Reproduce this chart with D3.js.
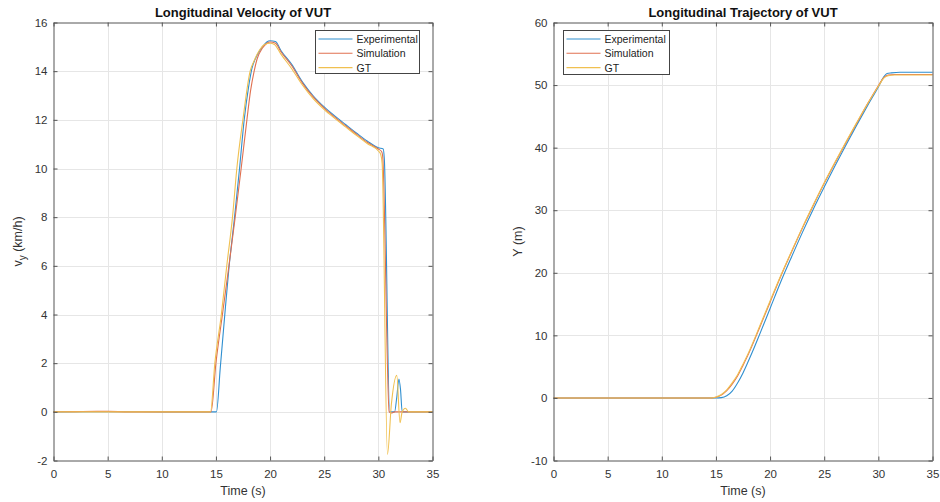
<!DOCTYPE html>
<html>
<head>
<meta charset="utf-8">
<script src="https://cdn.jsdelivr.net/npm/d3@7"></script>
<style>
  body { margin: 0; background: #fff; }
  svg { display: block; font-family: "Liberation Sans", Arial, sans-serif; }
</style>
</head>
<body>
<script>
// Series names and colors (MATLAB defaults)
const seriesNames = ["Experimental", "Simulation", "GT"];
const seriesColors = ["#2f8fd0", "#e07050", "#f0c050"];

// Velocity data (km/h)
const expVelT = [0, 5, 10, 14, 15.05, 15.4, 15.8, 16.2, 16.72, 17.18, 17.61, 18.0, 18.32, 18.8, 19.3, 19.7, 20.0, 20.5, 21.0, 22.0, 23.0, 24.0, 25.0, 26.0, 27.0, 28.0, 29.0, 30.0, 30.45, 30.55, 31.05, 31.5, 31.7, 31.9, 32.05, 32.2, 35];
const expVelV = [0, 0.01, 0, 0, 0, 1.8, 3.9, 5.9, 8.0, 10.0, 12.0, 13.3, 14.1, 14.65, 15.0, 15.2, 15.25, 15.22, 14.85, 14.28, 13.55, 12.98, 12.53, 12.15, 11.8, 11.45, 11.12, 10.85, 10.8, 10.4, 0, 0, 0.6, 1.35, 0.9, 0, 0];
const simVelT = [0, 2, 4, 5, 7, 10, 14, 14.55, 15.0, 15.6, 16.2, 16.78, 17.33, 17.86, 18.2, 18.53, 18.8, 19.3, 19.7, 20.0, 20.5, 21.0, 22.0, 23.0, 24.0, 25.0, 26.0, 27.0, 28.0, 29.0, 30.0, 30.3, 30.4, 31.0, 31.2, 31.5, 32.0, 35];
const simVelV = [0, 0.01, 0.02, 0.02, 0, 0, 0, 0, 2.0, 4.0, 6.0, 8.0, 10.0, 12.0, 13.2, 14.0, 14.5, 14.95, 15.15, 15.2, 15.15, 14.8, 14.22, 13.5, 12.93, 12.48, 12.1, 11.75, 11.4, 11.07, 10.8, 10.7, 10.5, 0, -0.05, 0, 0, 0];
const gtVelT = [0, 14, 14.5, 14.9, 15.5, 16.0, 16.53, 16.93, 17.49, 18.16, 18.5, 19.0, 19.5, 20.0, 20.4, 21.0, 22.0, 23.0, 24.0, 25.0, 26.0, 27.0, 28.0, 29.0, 30.0, 30.2, 30.35, 30.84, 31.2, 31.7, 32.0, 32.2, 32.5, 32.8, 35];
const gtVelV = [0, 0, 0, 2.0, 4.0, 6.0, 8.0, 10.0, 12.0, 14.0, 14.4, 14.85, 15.1, 15.15, 15.1, 14.7, 14.1, 13.42, 12.86, 12.42, 12.05, 11.7, 11.35, 11.02, 10.72, 10.6, 10.2, -1.75, 0.3, 1.5, -0.45, 0.0, 0.15, 0, 0];

// Position data (m)
const expPosT = [0, 15, 15.5, 16, 16.5, 17, 17.5, 18, 18.5, 19, 20, 21, 22, 23, 24, 25, 26, 27, 28, 29, 30, 30.5, 30.8, 31.2, 32, 35];
const expPosY = [0, 0, 0.05, 0.35, 1.1, 2.4, 4.0, 5.9, 7.9, 10.0, 14.3, 18.6, 22.6, 26.5, 30.2, 33.7, 37.1, 40.4, 43.6, 46.7, 49.7, 51.3, 51.85, 51.95, 52.05, 52.05];
const simPosT = [0, 14.6, 15, 15.5, 16, 16.5, 17, 17.5, 18, 18.5, 19, 20, 21, 22, 23, 24, 25, 26, 27, 28, 29, 30, 30.5, 30.9, 31.5, 35];
const simPosY = [0, 0, 0.1, 0.45, 1.15, 2.2, 3.5, 5.2, 7.0, 9.0, 11.1, 15.3, 19.5, 23.4, 27.2, 30.8, 34.3, 37.6, 40.8, 43.9, 47.0, 49.9, 51.2, 51.6, 51.7, 51.7];
const gtPosT = [0, 14.5, 15, 15.5, 16, 16.5, 17, 17.5, 18, 18.5, 19, 20, 21, 22, 23, 24, 25, 26, 27, 28, 29, 30, 30.5, 30.9, 31.5, 35];
const gtPosY = [0, 0, 0.15, 0.55, 1.3, 2.4, 3.7, 5.4, 7.2, 9.2, 11.3, 15.5, 19.6, 23.5, 27.3, 30.9, 34.4, 37.7, 40.9, 44.0, 47.0, 49.8, 51.1, 51.5, 51.6, 51.6];

// Tick values
const timeTicks = [0, 5, 10, 15, 20, 25, 30, 35];
const velTicks = [-2, 0, 2, 4, 6, 8, 10, 12, 14, 16];
const posTicks = [-10, 0, 10, 20, 30, 40, 50, 60];

const svg = d3.select("body")
  .append("svg")
    .attr("width", 940)
    .attr("height", 502);

const zip = (ts, vs) => ts.map((t, i) => ({ t: t, v: vs[i] }));

drawPanel({
  left: 53.5, right: 432.5, top: 22.5, bottom: 460.5,
  title: "Longitudinal Velocity of VUT",
  yDomain: [-2, 16], yTicks: velTicks, yLabel: "velocity",
  series: [zip(expVelT, expVelV), zip(simVelT, simVelV), zip(gtVelT, gtVelV)],
  legend: { x: 315.5, y: 30.5, w: 104, h: 43 }
});

drawPanel({
  left: 553.5, right: 932.5, top: 22.5, bottom: 460.5,
  title: "Longitudinal Trajectory of VUT",
  yDomain: [-10, 60], yTicks: posTicks, yLabel: "position",
  series: [zip(expPosT, expPosY), zip(simPosT, simPosY), zip(gtPosT, gtPosY)],
  legend: { x: 563.5, y: 30.5, w: 106, h: 44 }
});

function drawPanel(cfg) {
  const g = svg.append("g");

  // Scales
  const xScale = d3.scaleLinear().domain([0, 35]).range([cfg.left, cfg.right]);
  const yScale = d3.scaleLinear().domain(cfg.yDomain).range([cfg.bottom, cfg.top]);

  // Grid
  g.append("g")
    .selectAll("line")
    .data(timeTicks.slice(1, -1))
    .join("line")
      .attr("x1", d => Math.round(xScale(d)) + 0.5)
      .attr("x2", d => Math.round(xScale(d)) + 0.5)
      .attr("y1", cfg.top)
      .attr("y2", cfg.bottom)
      .attr("stroke", "#e6e6e6");
  g.append("g")
    .selectAll("line")
    .data(cfg.yTicks.slice(1, -1))
    .join("line")
      .attr("x1", cfg.left)
      .attr("x2", cfg.right)
      .attr("y1", d => Math.round(yScale(d)) + 0.5)
      .attr("y2", d => Math.round(yScale(d)) + 0.5)
      .attr("stroke", "#e6e6e6");

  // Lines
  const line = d3.line()
    .x(d => xScale(d.t))
    .y(d => yScale(d.v))
    .curve(d3.curveMonotoneX);
  cfg.series.forEach((s, i) => {
    g.append("path")
      .datum(s)
      .attr("d", line)
      .attr("fill", "none")
      .attr("stroke", seriesColors[i])
      .attr("stroke-width", 1.1)
      .attr("stroke-linejoin", "round");
  });

  // Axes with inward ticks (box on all four sides)
  const axisStyle = sel => {
    sel.select(".domain").attr("stroke", "#555");
    sel.selectAll(".tick line").attr("stroke", "#555");
    sel.selectAll(".tick text")
      .attr("fill", "#333")
      .style("font-size", "11.5px")
      .style("font-family", "'Liberation Sans', Arial, sans-serif");
  };
  const fmt = d => String(d);
  g.append("g")
    .attr("transform", `translate(0,${cfg.bottom})`)
    .call(d3.axisBottom(xScale).tickValues(timeTicks).tickSize(-4).tickSizeOuter(0).tickPadding(9).tickFormat(fmt))
    .call(axisStyle);
  g.append("g")
    .attr("transform", `translate(0,${cfg.top})`)
    .call(d3.axisTop(xScale).tickValues(timeTicks).tickSize(-4).tickSizeOuter(0).tickFormat(""))
    .call(axisStyle);
  g.append("g")
    .attr("transform", `translate(${cfg.left},0)`)
    .call(d3.axisLeft(yScale).tickValues(cfg.yTicks).tickSize(-4).tickSizeOuter(0).tickPadding(6).tickFormat(fmt))
    .call(axisStyle);
  g.append("g")
    .attr("transform", `translate(${cfg.right},0)`)
    .call(d3.axisRight(yScale).tickValues(cfg.yTicks).tickSize(-4).tickSizeOuter(0).tickFormat(""))
    .call(axisStyle);

  // Title
  const cx = (cfg.left + cfg.right) / 2;
  g.append("text")
    .text(cfg.title)
    .attr("x", cx)
    .attr("y", 17)
    .attr("text-anchor", "middle")
    .attr("fill", "#111")
    .style("font-size", "13px")
    .style("font-weight", "bold");

  // X label
  g.append("text")
    .text("Time (s)")
    .attr("x", cx)
    .attr("y", 495)
    .attr("text-anchor", "middle")
    .attr("fill", "#333")
    .style("font-size", "12.5px");

  // Y label
  const yl = g.append("text")
    .attr("transform", `translate(${cfg.left - 32},${(cfg.top + cfg.bottom) / 2}) rotate(-90)`)
    .attr("text-anchor", "middle")
    .attr("fill", "#333")
    .style("font-size", "12.5px");
  if (cfg.yLabel === "velocity") {
    yl.append("tspan").text("v");
    yl.append("tspan").text("y").attr("dy", 4).style("font-size", "10px");
    yl.append("tspan").text(" (km/h)").attr("dy", -4);
  } else {
    yl.text("Y (m)");
  }

  // Legend
  const lg = g.append("g").attr("transform", `translate(${cfg.legend.x},${cfg.legend.y})`);
  lg.append("rect")
    .attr("width", cfg.legend.w)
    .attr("height", cfg.legend.h)
    .attr("fill", "#fff")
    .attr("stroke", "#444");
  const rows = lg.selectAll("g")
    .data(seriesNames)
    .join("g")
      .attr("transform", (d, i) => `translate(0,${8.5 + i * 14.3})`);
  rows.append("line")
    .attr("x1", 3)
    .attr("x2", 37)
    .attr("stroke", (d, i) => seriesColors[i])
    .attr("stroke-width", 1.1);
  rows.append("text")
    .text(d => d)
    .attr("x", 41)
    .attr("y", 4)
    .attr("fill", "#222")
    .style("font-size", "10.5px");
}
</script>
</body>
</html>
